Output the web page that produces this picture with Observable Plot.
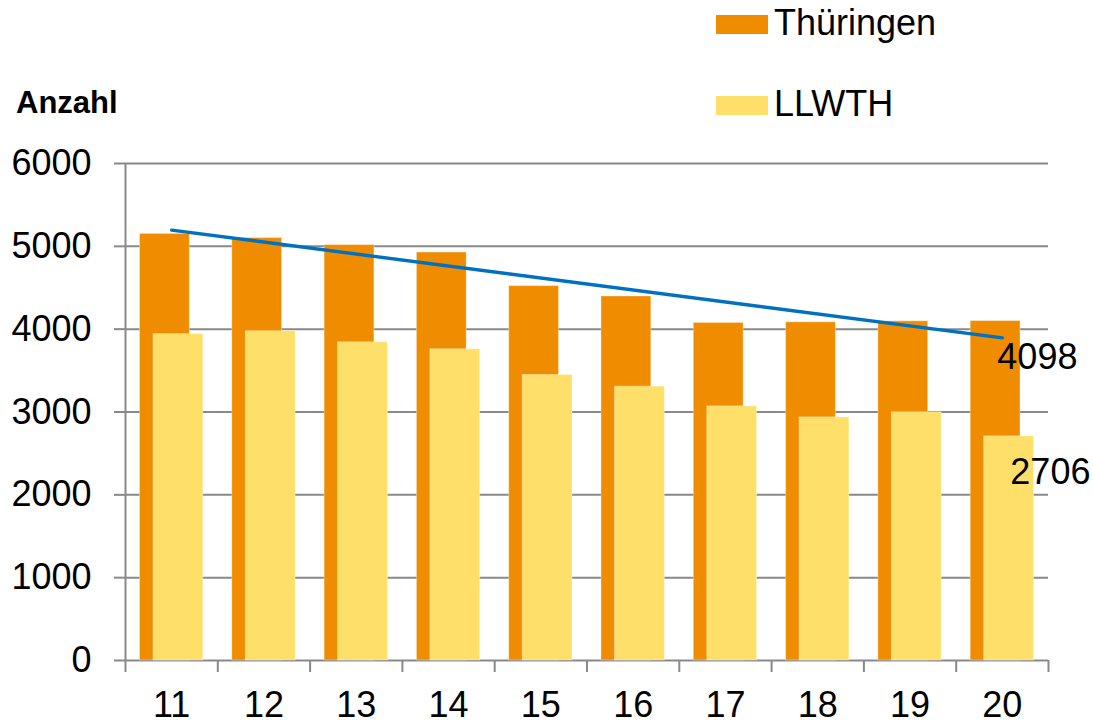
<!DOCTYPE html>
<html>
<head>
<meta charset="utf-8">
<script src="https://cdn.jsdelivr.net/npm/d3@7"></script>
<script src="https://cdn.jsdelivr.net/npm/@observablehq/plot@0.6"></script>
<style>
  body { margin: 0; background: #fff; }
  #chart { position: relative; width: 1093px; height: 724px; }
</style>
</head>
<body>
<div id="chart"></div>
<script>
// ---- data ----
const years = [11, 12, 13, 14, 15, 16, 17, 18, 19, 20];
const thueringen = [5150, 5100, 5015, 4925, 4520, 4395, 4075, 4083, 4095, 4098];
const llwth = [3940, 3975, 3842, 3757, 3447, 3306, 3068, 2935, 2996, 2706];
const yTicks = [0, 1000, 2000, 3000, 4000, 5000, 6000];
const xBoundaries = [10.5, 11.5, 12.5, 13.5, 14.5, 15.5, 16.5, 17.5, 18.5, 19.5, 20.5];
const seriesNames = ["Thüringen", "LLWTH"];
const seriesColors = ["#F08C00", "#FDDF69"];
const yLabel = "Anzahl";

// ---- table ----
const data = years.map((y, i) => ({ year: y, th: thueringen[i], ll: llwth[i] }));
const last = data[data.length - 1];

const gray = "#898989";
const font = "'Liberation Sans', Arial, Helvetica, sans-serif";

const svg = Plot.plot({
  width: 1093,
  height: 724,
  marginLeft: 125,
  marginRight: 45,
  marginTop: 163,
  marginBottom: 64,
  style: { fontFamily: font, fontSize: "36px", color: "black", background: "white" },
  x: { type: "linear", domain: [xBoundaries[0], xBoundaries[xBoundaries.length - 1]], label: null },
  y: { domain: [0, 6000], label: null },
  marks: [
    Plot.gridY({ ticks: yTicks, stroke: gray, strokeOpacity: 1, strokeWidth: 2 }),
    Plot.ruleX([xBoundaries[0]], { stroke: gray, strokeWidth: 2 }),
    Plot.rectY(data, {
      x1: d => d.year - 0.5, x2: d => d.year + 0.5, y: "th",
      fill: seriesColors[0], insetLeft: 14.5, insetRight: 28,
      stroke: "white", strokeOpacity: 0.35, strokeWidth: 1
    }),
    Plot.rectY(data, {
      x1: d => d.year - 0.5, x2: d => d.year + 0.5, y: "ll",
      fill: seriesColors[1], insetLeft: 28, insetRight: 14.5,
      stroke: "white", strokeOpacity: 0.35, strokeWidth: 1
    }),
    Plot.linearRegressionY(data, { x: "year", y: "th", ci: 0, stroke: "#0070C0", strokeWidth: 3.4 }),
    Plot.axisY({
      ticks: yTicks, tickSize: 11, tickPadding: 23, stroke: gray, strokeWidth: 2,
      fill: "black", fontSize: 36, tickFormat: d => String(d), label: null
    }),
    Plot.axisX({
      ticks: xBoundaries, tickSize: 12, stroke: gray, strokeWidth: 2,
      tickFormat: () => "", label: null
    }),
    Plot.axisX({
      ticks: years, tickSize: 0, tickPadding: 31, fill: "black",
      fontSize: 36, tickFormat: d => String(d), label: null
    }),
    Plot.text([last], { x: "year", y: "th", text: d => String(d.th), textAnchor: "start", dx: -5, dy: 36, fontSize: 36, fill: "black" }),
    Plot.text([last], { x: "year", y: "ll", text: d => String(d.ll), textAnchor: "start", dx: 8, dy: 36, fontSize: 36, fill: "black" })
  ]
});

const root = d3.select(svg);
// y-axis title
root.append("text")
  .attr("x", 16).attr("y", 113)
  .attr("text-anchor", "start")
  .attr("font-family", font).attr("font-size", 31).attr("font-weight", "bold")
  .attr("fill", "black")
  .text(yLabel);

// legend
const legendY = [15, 96];
seriesNames.forEach((name, i) => {
  const g = root.append("g");
  g.append("rect").attr("x", 716).attr("y", legendY[i]).attr("width", 52).attr("height", 19).attr("fill", seriesColors[i]);
  g.append("text").attr("x", 774).attr("y", legendY[i] + 20)
    .attr("text-anchor", "start")
    .attr("font-family", font).attr("font-size", 36).attr("fill", "black").text(name);
});

document.getElementById("chart").appendChild(svg);
</script>
</body>
</html>
